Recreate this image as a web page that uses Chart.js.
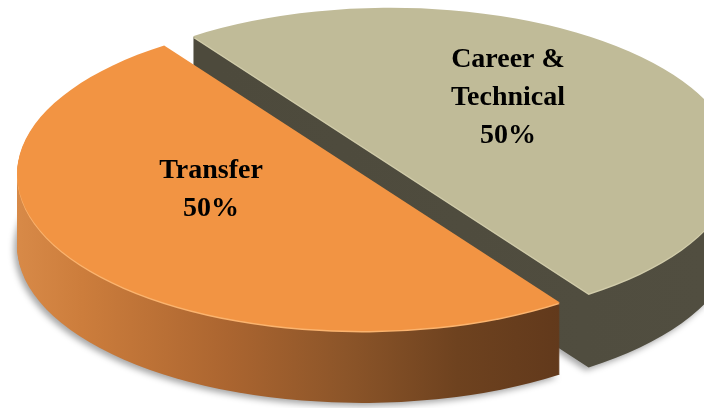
<!DOCTYPE html>
<html><head><meta charset="utf-8">
<script src="https://cdn.jsdelivr.net/npm/chart.js@4/dist/chart.umd.min.js"></script>
<style>html,body{margin:0;padding:0;background:#fff;overflow:hidden}</style>
</head><body>
<canvas id="c" width="704" height="408"></canvas>
<script>
// ---- data ----
const categories = ['Transfer', 'Career & Technical'];
const values = [50, 50];
const labelLines = [['Transfer'], ['Career &', 'Technical']];

// ---- styling ----
const topColors = ['#f29443', '#c0bb98'];
const rimColors = ['#fbb46f', '#d2cdab'];
const SX = 2.197;          // horizontal stretch of the tilted disc
const DEPTH = [72, 74];    // wall height per slice
const EXPLODE = [0, 16];   // explode distance per slice
const LABEL_POS = [[-151, 16], [146, -76]];
const LINE_H = 38;

function wallFill(ctx, i, cx, ox) {
  const toU = X => cx + (X - cx - ox) / SX;
  if (i === 1) {
    const g = ctx.createLinearGradient(toU(220), 0, toU(704), 0);
    g.addColorStop(0, '#4d4a3c');
    g.addColorStop(1, '#514e40');
    return g;
  }
  const g = ctx.createLinearGradient(toU(15), 0, toU(575), 0);
  g.addColorStop(0.00, '#d88a48');
  g.addColorStop(0.12, '#cc7d3c');
  g.addColorStop(0.38, '#ab6530');
  g.addColorStop(0.59, '#8c5529');
  g.addColorStop(0.79, '#6e421f');
  g.addColorStop(1.00, '#60381b');
  return g;
}

function drawArcWith(arc, ctx, fill) {
  const p = Object.create(arc);
  p.options = Object.assign({}, arc.options, { backgroundColor: fill, borderWidth: 0, offset: 0 });
  arc.draw.call(p, ctx);
}

const pie3d = {
  id: 'pie3d',
  beforeDatasetsDraw(chart) {
    const ctx = chart.ctx;
    const arcs = chart.getDatasetMeta(0).data;
    const order = [1, 0]; // back slice first
    for (const i of order) {
      const arc = arcs[i];
      const cx = arc.x, cy = arc.y;
      const mid = (arc.startAngle + arc.endAngle) / 2;
      const ox = Math.cos(mid) * EXPLODE[i] * SX;
      const oy = Math.sin(mid) * EXPLODE[i];
      const place = (k) => {
        ctx.translate(cx + ox, cy + oy + k);
        ctx.scale(SX, 1);
        ctx.translate(-cx, -cy);
      };
      // walls
      for (let k = DEPTH[i]; k >= 1; k--) {
        ctx.save();
        place(k);
        if (k === DEPTH[i]) {
          ctx.shadowColor = 'rgba(0,0,0,0.35)';
          ctx.shadowBlur = 6;
          ctx.shadowOffsetX = -3;
          ctx.shadowOffsetY = 3;
        }
        drawArcWith(arc, ctx, wallFill(ctx, i, cx, ox));
        ctx.restore();
      }
      // rim highlight
      ctx.save();
      place(1.5);
      drawArcWith(arc, ctx, rimColors[i]);
      ctx.restore();
      // top face
      ctx.save();
      place(0);
      arc.draw(ctx);
      ctx.restore();
    }
    // labels
    const total = values.reduce((a, b) => a + b, 0);
    ctx.save();
    ctx.fillStyle = '#000';
    ctx.font = 'bold 28px "Liberation Serif"';
    ctx.textAlign = 'center';
    ctx.textBaseline = 'middle';
    arcs.forEach((arc, i) => {
      const lines = labelLines[i].concat([Math.round(values[i] / total * 100) + '%']);
      const x = arc.x + LABEL_POS[i][0];
      const y0 = arc.y + LABEL_POS[i][1] - (lines.length - 1) * LINE_H / 2;
      lines.forEach((t, j) => ctx.fillText(t, x, y0 + j * LINE_H));
    });
    ctx.restore();
    return false;
  }
};

new Chart(document.getElementById('c'), {
  type: 'pie',
  data: {
    labels: categories,
    datasets: [{ data: values, backgroundColor: topColors, borderWidth: 0 }]
  },
  options: {
    responsive: false,
    animation: false,
    rotation: 145,
    radius: 157,
    layout: { padding: { left: 20, right: 0, top: 0, bottom: 60 } },
    plugins: { legend: { display: false }, tooltip: { enabled: false } },
    events: []
  },
  plugins: [pie3d]
});
</script>
</body></html>
